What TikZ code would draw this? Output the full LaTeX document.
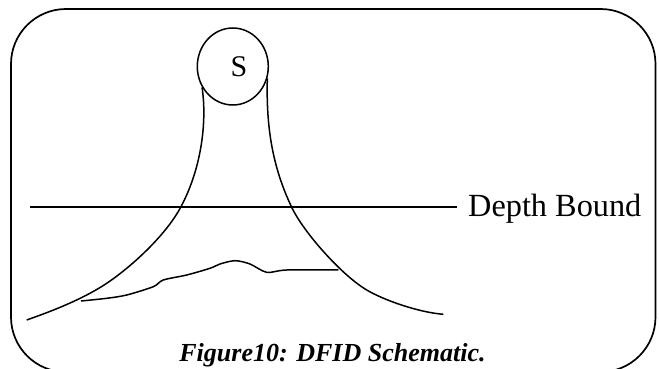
\documentclass[tikz,border=0pt]{standalone}
\usepackage{fontspec}
\setmainfont{Liberation Serif}
\usetikzlibrary{shapes.geometric}

\begin{document}
\begin{tikzpicture}[
        x=1pt, y=-1pt,
        frame/.style={draw, line width=1.7pt, rounded corners=55pt},
        curve/.style={line width=1.5pt},
        source/.style={draw, ellipse, line width=1.5pt, inner sep=0pt, minimum width=71pt, minimum height=77pt},
        label/.style={inner sep=0pt}
    ]
        \useasboundingbox (0,0) rectangle (659,369);
        \draw[frame] (11,9) rectangle (655.5,372);

        \node[source] (src) at (232.8,66.5) {};
        \node[label, anchor=base, font=\fontsize{30}{34}\selectfont] (slabel) at (239,76.7) {S};

        % search frontier
        \draw[curve] (src.214.5) .. controls (207,120) and (202.2,166.7) .. (181,206.7)
            .. controls (165.1,236.7) and (129.2,268.3) .. (106.7,283.3)
            .. controls (79.7,301.3) and (43.5,314) .. (26.7,320);
        \draw[curve] (src.341) .. controls (266,128) and (272.7,167.3) .. (291.7,207.3)
            .. controls (303.6,232.3) and (341.5,275) .. (366.7,290)
            .. controls (383.5,300) and (418.3,312.3) .. (443.3,314.3);

        % goal region
        \draw[curve] plot[smooth, tension=0.5] coordinates {(81,301) (106.7,298.3) (126.7,295) (153.3,286.7) (163.3,280) (186.7,275) (210,268.3) (220,264) (235,260.7) (250,264) (266.7,272.3) (286.7,270) (338.3,270)};

        % depth bound
        \coordinate (dl0) at (30,207.3);
        \coordinate (dl1) at (456.7,207.3);
        \draw[line width=1.7pt] (dl0) -- (dl1);
        \node[label, anchor=base west, font=\fontsize{32.3}{37}\selectfont] (bound) at (468,216.7) {Depth Bound};

        \node[label, anchor=base, font=\fontsize{26}{30}\selectfont\bfseries\itshape] (caption) at (332.5,361.7) {Figure10: DFID Schematic.};
    \end{tikzpicture}
\end{document}
